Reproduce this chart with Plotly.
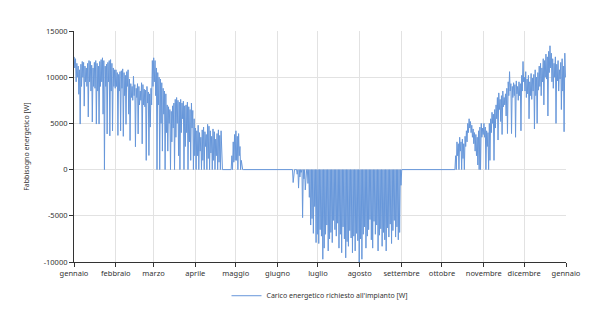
import datetime as dt
import plotly.graph_objects as go

# ---- data (W), one "night" and one "day" value per day ----
gen_notte = [12200, 12000, 11500, 11200, 10800, 11400, 11700, 11600, 11200, 11000, 11500, 11800, 11700, 11300, 11000, 11600, 11800, 11500, 11200, 11700, 11900, 12100, 11800, 11200, 11400, 11600, 11800, 11900, 11500, 11000, 10800]
gen_giorno = [11000, 9500, 10000, 8150, 4930, 9000, 10000, 6870, 9500, 9000, 5700, 9500, 8500, 5150, 9000, 8800, 4930, 8500, 4930, 9000, 9500, 6000, 0, 9000, 3860, 9500, 3650, 8500, 4180, 9000, 8800]
feb_notte = [10800, 10500, 10300, 10600, 10700, 10900, 10500, 10200, 10600, 10800, 9800, 9300, 9000, 10100, 9200, 8800, 9300, 9000, 8500, 9400, 9200, 8700, 8600, 9000, 8400, 8200, 8800, 11800]
feb_giorno = [9000, 3700, 8500, 4200, 8800, 3600, 8000, 4900, 9000, 6000, 3150, 7800, 7500, 8000, 2470, 7800, 3860, 7000, 7500, 2790, 7000, 6800, 1000, 7200, 1530, 4600, 7000, 9000]
mar_notte = [12100, 11800, 11000, 10500, 10000, 9800, 9400, 8800, 8500, 8200, 7000, 6800, 6500, 6300, 6900, 7200, 7600, 7800, 7500, 7300, 7600, 7200, 7400, 6900, 7000, 7300, 6800, 6500, 7200, 6400, 5500]
mar_giorno = [9500, 8000, 0, 7000, 0, 5000, 2000, 6000, 0, 4000, 2000, 5000, 0, 3000, 4500, 0, 3500, 5000, 1500, 0, 4000, 5500, 0, 2500, 4000, 0, 3000, 1000, 4500, 0, 1500]
apr_notte = [4500, 4200, 4800, 4000, 3500, 4300, 4600, 4100, 3800, 4900, 4700, 4200, 3600, 4400, 4100, 3300, 3900, 4300, 3700, 4200, 0, 0, 0, 0, 0, 0, 0, 1500, 3000, 3800]
apr_giorno = [0, 1500, 0, 2000, 0, 1000, 0, 2500, 0, 1200, 0, 1800, 0, 1000, 0, 1500, 0, 800, 0, 0, 0, 0, 0, 0, 0, 0, 0, 0, 800, 1000]
mag_notte = [4200, 3600, 3900, 2500, 1000, 0, 0, 0, 0, 0, 0, 0, 0, 0, 0, 0, 0, 0, 0, 0, 0, 0, 0, 0, 0, 0, 0, 0, 0, 0, 0]
mag_giorno = [1000, 0, 1500, 0, 0, 0, 0, 0, 0, 0, 0, 0, 0, 0, 0, 0, 0, 0, 0, 0, 0, 0, 0, 0, 0, 0, 0, 0, 0, 0, 0]
giu_notte = [0, 0, 0, 0, 0, 0, 0, 0, 0, 0, 0, 0, 0, 0, 0, 0, 0, 0, 0, 0, 0, 0, 0, 0, 0, 0, 0, 0, 0, 0]
giu_giorno = [0, 0, 0, 0, 0, 0, 0, 0, 0, 0, 0, -1400, 0, 0, -500, -2000, -800, -300, -5200, -1000, -2200, 0, -1500, -3000, -6000, -5300, -6900, -4000, -7900, -7000]
lug_notte = [0, 0, 0, 0, 0, 0, 0, 0, 0, 0, 0, 0, 0, 0, 0, 0, 0, 0, 0, 0, 0, 0, 0, 0, 0, 0, 0, 0, 0, 0, 0]
lug_giorno = [-8000, -6500, -7200, -9700, -8500, -7000, -6000, -8800, -7500, -6800, -7900, -5500, -6500, -7200, -5800, -8500, -7000, -9000, -6200, -7500, -9550, -7800, -8300, -6600, -7400, -9000, -7200, -8800, -6900, -7700, -10000]
ago_notte = [0, 0, 0, 0, 0, 0, 0, 0, 0, 0, 0, 0, 0, 0, 0, 0, 0, 0, 0, 0, 0, 0, 0, 0, 0, 0, 0, 0, 0, 0, 0]
ago_giorno = [-7500, -9700, -7000, -6200, -8500, -7200, -6500, -5400, -7600, -8500, -5600, -7000, -6000, -8800, -7100, -6400, -8300, -6800, -7600, -8800, -6300, -7300, -5900, -8000, -6600, -5500, -7300, -6200, -7600, -6800, -1700]
set_notte = [0, 0, 0, 0, 0, 0, 0, 0, 0, 0, 0, 0, 0, 0, 0, 0, 0, 0, 0, 0, 0, 0, 0, 0, 0, 0, 0, 0, 0, 0]
set_giorno = [0, 0, 0, 0, 0, 0, 0, 0, 0, 0, 0, 0, 0, 0, 0, 0, 0, 0, 0, 0, 0, 0, 0, 0, 0, 0, 0, 0, 0, 0]
ott_notte = [0, 0, 0, 0, 0, 0, 0, 0, 0, 0, 1500, 3000, 2800, 3500, 3000, 3300, 2800, 3600, 4200, 5000, 5500, 5200, 4800, 4400, 4000, 3800, 3500, 4200, 4600, 5000, 4500]
ott_giorno = [0, 0, 0, 0, 0, 0, 0, 0, 0, 0, 0, 1500, 0, 2000, 0, 1200, 0, 2500, 3000, 4000, 4500, 4000, 3500, 2800, 2000, 1500, 500, 0, 0, 3500, 3800]
nov_notte = [5000, 4600, 4200, 4000, 5000, 5500, 6200, 6000, 6500, 7000, 7800, 8300, 7600, 8000, 8500, 7800, 8200, 8800, 9500, 10600, 9300, 9000, 9400, 9200, 9600, 9000, 9500, 9300, 10200, 11700]
nov_giorno = [3500, 0, 2500, 0, 1000, 4000, 5000, 1000, 4500, 5500, 3200, 6500, 5200, 3800, 6800, 7000, 5800, 3900, 8000, 8500, 3900, 7800, 8000, 3500, 8200, 7500, 8000, 4200, 8500, 9500]
dic_notte = [10000, 10600, 9800, 10200, 9500, 10400, 9900, 10300, 10800, 10000, 10500, 11200, 11500, 11000, 12000, 11800, 12500, 12200, 12800, 13400, 12600, 12000, 11500, 12200, 11400, 11800, 10800, 11600, 12000, 11200, 12600]
dic_giorno = [8500, 7800, 8200, 5500, 8000, 7600, 8500, 4400, 8000, 5000, 8600, 9000, 8000, 9500, 7000, 10000, 9800, 5800, 10500, 11000, 9500, 8800, 10000, 5000, 9600, 8500, 9800, 6500, 8500, 4100, 10000]

mesi = ["gennaio", "febbraio", "marzo", "aprile", "maggio", "giugno", "luglio",
        "agosto", "settembre", "ottobre", "novembre", "dicembre", "gennaio"]
y_ticks = [15000, 10000, 5000, 0, -5000, -10000]
y_labels = ["15000", "10000", "5000", "0", "-5000", "-10000"]
serie_nome = "Carico energetico richiesto all'impianto [W]"
asse_y_titolo = "Fabbisogno energetico [W]"

notte = (gen_notte + feb_notte + mar_notte + apr_notte + mag_notte + giu_notte +
         lug_notte + ago_notte + set_notte + ott_notte + nov_notte + dic_notte)
giorno = (gen_giorno + feb_giorno + mar_giorno + apr_giorno + mag_giorno + giu_giorno +
          lug_giorno + ago_giorno + set_giorno + ott_giorno + nov_giorno + dic_giorno)

anno = 2021
inizio = dt.datetime(anno, 1, 1)
xs, ys = [], []
for d, (vn, vg) in enumerate(zip(notte, giorno)):
    base = inizio + dt.timedelta(days=d)
    xs.append(base + dt.timedelta(hours=3)); ys.append(vn)
    xs.append(base + dt.timedelta(hours=14)); ys.append(vg)

tick_dates = [dt.datetime(anno, m, 1) for m in range(1, 13)] + [dt.datetime(anno + 1, 1, 1)]

fig = go.Figure()
fig.add_trace(go.Scatter(x=xs, y=ys, mode="lines", name=serie_nome,
                         line=dict(color="#6797da", width=1), showlegend=True))

font_fam = "Noto Sans, Open Sans, sans-serif"
fig.update_layout(
    width=600, height=322,
    margin=dict(l=74, r=34, t=31, b=58),
    paper_bgcolor="white", plot_bgcolor="white",
    font=dict(family=font_fam, size=8, color="#333"),
    showlegend=True,
    legend=dict(orientation="h", x=0.5, xanchor="center", y=-0.146, yanchor="middle",
                font=dict(size=7, color="#333"), bgcolor="rgba(0,0,0,0)"),
    annotations=[dict(text=asse_y_titolo, textangle=-90, xref="paper", yref="paper",
                      x=-0.097, y=0.5, xanchor="center", yanchor="middle", showarrow=False,
                      font=dict(size=7, color="#333"))],
)
fig.update_xaxes(range=[inizio, dt.datetime(anno + 1, 1, 1)], tickvals=tick_dates, ticktext=mesi,
                 showgrid=True, gridcolor="#e2e2e2", gridwidth=1, showline=True,
                 linecolor="#333", linewidth=1, ticks="outside", ticklen=4, tickcolor="#333",
                 zeroline=False, tickfont=dict(size=7.5, color="#333"))
fig.update_yaxes(range=[-10000, 15000], tickvals=y_ticks, ticktext=y_labels,
                 showgrid=True, gridcolor="#e2e2e2", gridwidth=1, showline=True,
                 linecolor="#333", linewidth=1, ticks="outside", ticklen=4, tickcolor="#333",
                 zeroline=False, tickfont=dict(size=7.5, color="#333"))

fig.write_html("out.html")
